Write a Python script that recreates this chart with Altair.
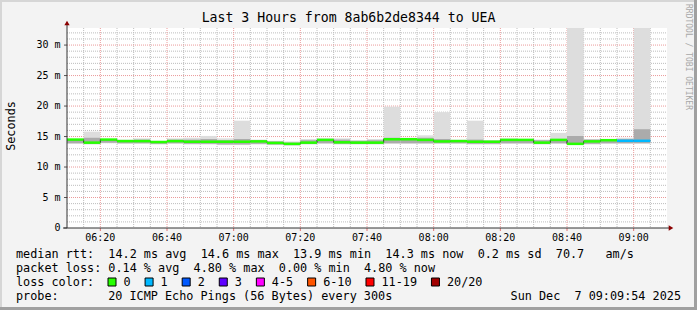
import altair as alt
import pandas as pd

FONT = "DejaVu Sans Mono"
NB = "\u00a0"

# ---- data (5-minute intervals, minutes after 06:00) ----
start_min = list(range(10, 185, 5))
med = [14.5, 14.0, 14.5, 14.25, 14.25, 14.1, 14.25, 14.15, 14.15, 14.15, 14.15, 14.2,
       13.95, 13.8, 14.0, 14.45, 14.05, 14.0, 14.0, 14.55, 14.55, 14.45, 14.2, 14.25,
       14.15, 14.15, 14.45, 14.45, 14.0, 14.45, 13.8, 14.2, 14.4, 14.3, 14.3]
hi = [14.6, 15.8, 14.6, 14.5, 14.7, 14.3, 14.7, 14.8, 15.1, 14.7, 17.6, 14.5,
      14.3, 14.2, 14.6, 14.7, 14.7, 14.4, 14.6, 19.9, 14.8, 15.2, 19.0, 14.5,
      17.6, 14.4, 14.7, 14.6, 14.5, 15.6, 34.0, 14.6, 14.6, 14.8, 34.0]
lo = [13.8, 13.7, 13.9, 13.8, 13.8, 13.7, 13.8, 13.7, 13.7, 13.6, 13.6, 13.7,
      13.6, 13.5, 13.7, 13.8, 13.7, 13.7, 13.7, 13.8, 13.8, 13.8, 13.8, 13.8,
      13.7, 13.7, 13.8, 13.8, 13.7, 13.8, 13.6, 13.7, 13.8, 13.8, 13.8]
q_lo = [13.9, 13.8, 14.0, 13.9, 13.9, 13.8, 13.9, 13.8, 13.8, 13.7, 13.7, 13.8,
        13.7, 13.6, 13.8, 13.9, 13.8, 13.8, 13.8, 13.9, 13.9, 13.9, 13.9, 13.9,
        13.8, 13.8, 13.9, 13.9, 13.8, 13.9, 13.7, 13.8, 13.9, 13.9, 13.9]
q_hi = [14.5, 14.8, 14.5, 14.4, 14.5, 14.2, 14.5, 14.5, 14.6, 14.4, 14.6, 14.4,
        14.2, 14.0, 14.4, 14.5, 14.5, 14.3, 14.4, 14.8, 14.7, 14.8, 14.6, 14.4,
        14.5, 14.3, 14.6, 14.5, 14.4, 14.6, 15.1, 14.5, 14.5, 14.6, 16.2]
loss = [0, 0, 0, 0, 0, 0, 0, 0, 0, 0, 0, 0, 0, 0, 0, 0, 0, 0, 0, 0, 0, 0, 0, 0,
        0, 0, 0, 0, 0, 0, 0, 0, 0, 1, 1]

loss_labels = ["0", "1", "2", "3", "4-5", "6-10", "11-19", "20/20"]
loss_colors = ["#26ff00", "#00b8ff", "#0059ff", "#5e00ff", "#ff00ff", "#ff5500", "#ff0000", "#a10000"]

x_major = [20, 40, 60, 80, 100, 120, 140, 160, 180]
x_labels = ["06:20", "06:40", "07:00", "07:20", "07:40", "08:00", "08:20", "08:40", "09:00"]
x_minor = [m for m in range(15, 190, 5) if m % 20 != 0]
y_major = [0, 5, 10, 15, 20, 25, 30]
y_labels = ["0  ", "5 m", "10 m", "15 m", "20 m", "25 m", "30 m"]
y_minor = [v for v in range(1, 33) if v % 5 != 0]

title_text = "Last 3 Hours from 8ab6b2de8344 to UEA"
stats_rtt = "median rtt:  14.2 ms avg  14.6 ms max  13.9 ms min  14.3 ms now  0.2 ms sd  70.7   am/s"
stats_loss = "packet loss: 0.14 % avg  4.80 % max  0.00 % min  4.80 % now"
probe_label = "probe:"
probe_text = "20 ICMP Echo Pings (56 Bytes) every 300s"
date_text = "Sun Dec  7 09:09:54 2025"

df = pd.DataFrame({"start": start_min, "med": med, "hi": hi, "lo": lo,
                   "q_lo": q_lo, "q_hi": q_hi, "loss": loss})
df["end"] = df["start"] + 5
df["col"] = [loss_colors[l] for l in df["loss"]]

line_df = pd.DataFrame({"t": start_min + [start_min[-1] + 5], "v": med + [med[-1]]})

# ---- layout constants (pixels) ----
W, H = 600, 200
L, T = 67, 28
CW = 7.09  # char width of legend font

x_scale = alt.Scale(domain=[10, 190], nice=False, zero=False)
y_scale = alt.Scale(domain=[0, 32.8], nice=False, zero=False)

GRID_MINOR = "#bdbdbd"
GRID_MAJOR = "#eb9a9a"

xg_minor = alt.Chart(pd.DataFrame({"v": x_minor})).mark_rule(
    color=GRID_MINOR, strokeDash=[1, 1], strokeWidth=1).encode(
    x=alt.X("v:Q", scale=x_scale, axis=None), y=alt.value(0), y2=alt.value(H))
yg_minor = alt.Chart(pd.DataFrame({"v": y_minor})).mark_rule(
    color=GRID_MINOR, strokeDash=[1, 1], strokeWidth=1).encode(
    y=alt.Y("v:Q", scale=y_scale, axis=None), x=alt.value(0), x2=alt.value(W))
xg_major = alt.Chart(pd.DataFrame({"v": x_major})).mark_rule(
    color=GRID_MAJOR, strokeDash=[1, 1], strokeWidth=1).encode(
    x=alt.X("v:Q", axis=None), y=alt.value(0), y2=alt.value(H))
yg_major = alt.Chart(pd.DataFrame({"v": y_major[1:]})).mark_rule(
    color=GRID_MAJOR, strokeDash=[1, 1], strokeWidth=1).encode(
    y=alt.Y("v:Q", axis=None), x=alt.value(0), x2=alt.value(W))

# tick marks and tick labels drawn through the scales
x_ticks = alt.Chart(pd.DataFrame({"v": x_major})).mark_rule(color="#e07070", strokeWidth=1).encode(
    x=alt.X("v:Q", axis=None), y=alt.value(H), y2=alt.value(H + 3))
y_ticks = alt.Chart(pd.DataFrame({"v": y_major})).mark_rule(color="#555555", strokeWidth=1).encode(
    y=alt.Y("v:Q", axis=None), x=alt.value(-3), x2=alt.value(0))
x_lab = alt.Chart(pd.DataFrame({"v": x_major, "lab": x_labels})).mark_text(
    font=FONT, fontSize=10, color="black", baseline="middle", align="center").encode(
    x=alt.X("v:Q", axis=None), y=alt.value(H + 9.5), text="lab:N")
y_lab = alt.Chart(pd.DataFrame({"v": y_major, "lab": [s.replace(" ", NB) for s in y_labels]})).mark_text(
    font=FONT, fontSize=10, color="black", baseline="middle", align="right").encode(
    y=alt.Y("v:Q", axis=None), x=alt.value(-6.5), text="lab:N")

outer = alt.Chart(df).mark_rect(color="#dddddd", clip=True).encode(
    x=alt.X("start:Q", axis=None), x2="end:Q",
    y=alt.Y("lo:Q", axis=None), y2="hi:Q")
inner = alt.Chart(df).mark_rect(color="#ababab", clip=True).encode(
    x=alt.X("start:Q", axis=None), x2="end:Q",
    y=alt.Y("q_lo:Q", axis=None), y2="q_hi:Q")
step = alt.Chart(line_df).mark_line(interpolate="step-after", color="#202020", strokeWidth=1).encode(
    x=alt.X("t:Q", axis=None), y=alt.Y("v:Q", axis=None))
medline = alt.Chart(df).mark_rule(strokeWidth=2.5).encode(
    x=alt.X("start:Q", axis=None), x2="end:Q",
    y=alt.Y("med:Q", axis=None), color=alt.Color("col:N", scale=None))

ONE = pd.DataFrame({"t": [""]})


def vrule(x1, x2, y1, y2, color, width):
    return alt.Chart(ONE).mark_rule(color=color, strokeWidth=width).encode(
        x=alt.value(x1), x2=alt.value(x2), y=alt.value(y1), y2=alt.value(y2))


def vtext(text, px, py, size, color="black", align="left", angle=0):
    d = pd.DataFrame({"t": [text.replace(" ", NB)]})
    return alt.Chart(d).mark_text(font=FONT, fontSize=size, color=color, align=align,
                                  baseline="middle", angle=angle).encode(
        x=alt.value(px), y=alt.value(py), text="t:N")


def arrow(px, py, shape):
    return alt.Chart(ONE).mark_point(shape=shape, filled=True, color="#8b0000",
                                     size=28, opacity=1).encode(
        x=alt.value(px), y=alt.value(py))


layers = [xg_minor, yg_minor, xg_major, yg_major, outer, inner, step, medline,
          x_ticks, y_ticks, x_lab, y_lab]

# axis lines and arrows
layers += [vrule(0, 0, -5, H, "#333333", 1), vrule(-4, 604, H, H, "#333333", 1),
           arrow(0, -5, "triangle-up"), arrow(604, H, "triangle-right")]

# frame
layers += [vrule(-L, 697 - L, -T + 1, -T + 1, "#d6d6d6", 2),
           vrule(-L + 1, -L + 1, -T, 310 - T, "#d6d6d6", 2),
           vrule(-L, 697 - L, 310 - T - 1.5, 310 - T - 1.5, "#a0a0a0", 3),
           vrule(697 - L - 1.5, 697 - L - 1.5, -T, 310 - T, "#a0a0a0", 3)]

# texts
layers += [vtext(title_text, 348.5 - L, 18 - T, 13.2, align="center"),
           vtext("Seconds", 11 - L, 126 - T, 11.8, align="center", angle=270),
           vtext("RRDTOOL / TOBI OETIKER", 688 - L, 57 - T, 8, color="#a8a8a8",
                 align="center", angle=90),
           vtext(stats_rtt, 16 - L, 254 - T, 11.8),
           vtext(stats_loss, 16 - L, 268 - T, 11.8),
           vtext("loss color:", 16 - L, 282 - T, 11.8),
           vtext(probe_label, 16 - L, 296 - T, 11.8),
           vtext(probe_text, 16 + 13 * CW - L, 296 - T, 11.8),
           vtext(date_text, 681 - L, 296 - T, 11.8, align="right")]

# loss colour swatches
cur = 108.0
for lab, colr in zip(loss_labels, loss_colors):
    layers.append(alt.Chart(ONE).mark_rect(stroke="black", strokeWidth=1, color=colr).encode(
        x=alt.value(cur - L), x2=alt.value(cur + 8 - L),
        y=alt.value(278 - T), y2=alt.value(286 - T)))
    layers.append(vtext(lab, cur + 15.5 - L, 282 - T, 11.8))
    cur = cur + 16 + len(lab) * CW + 14

chart = alt.layer(*layers).properties(
    width=W, height=H, background="#f3f3f3",
    padding={"left": L, "top": T, "right": 697 - L - W, "bottom": 310 - T - H},
    autosize=alt.AutoSizeParams(type="none"),
).configure_view(fill="white", stroke=None)

chart.save("out.html", embed_options={"renderer": "svg", "actions": False})
